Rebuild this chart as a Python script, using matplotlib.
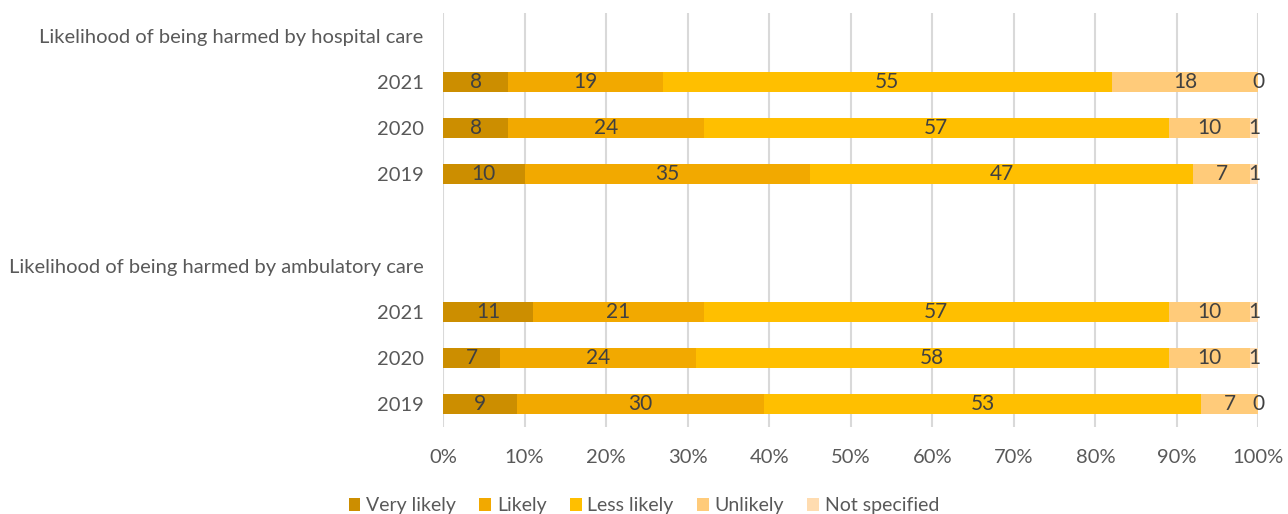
import numpy as np
import matplotlib.pyplot as plt

# rows from top to bottom; None marks a header / blank row
row_labels = ["Likelihood of being harmed by hospital care", "2021", "2020", "2019", "",
              "Likelihood of being harmed by ambulatory care", "2021", "2020", "2019"]
series = ["Very likely", "Likely", "Less likely", "Unlikely", "Not specified"]

very_likely = [None, 8, 8, 10, None, None, 11, 7, 9]
likely = [None, 19, 24, 35, None, None, 21, 24, 30]
less_likely = [None, 55, 57, 47, None, None, 57, 58, 53]
unlikely = [None, 18, 10, 7, None, None, 10, 10, 7]
not_specified = [None, 0, 1, 1, None, None, 1, 1, 0]

colors = ["#CC8E00", "#F2A900", "#FFBF00", "#FFCB7A", "#FFDCB0"]

plt.rcParams['font.family'] = ['Lato', 'DejaVu Sans']

fig = plt.figure(figsize=(12.88, 5.14), dpi=100)
ax = fig.add_axes([0.344, 0.169, 0.633, 0.806])

data = [very_likely, likely, less_likely, unlikely, not_specified]
n = len(row_labels)
ypos = np.arange(n)

for i in range(n):
    if very_likely[i] is None:
        continue
    vals = np.array([d[i] for d in data], float)
    pct = vals / vals.sum()
    left = 0.0
    for j in range(len(series)):
        ax.barh(ypos[i], pct[j], left=left, height=0.42, color=colors[j],
                label=series[j] if i == 1 else None, zorder=3)
        ax.text(left + pct[j] / 2, ypos[i], "%d" % vals[j], ha='center', va='center',
                fontsize=15, color="#404040", zorder=4)
        left += pct[j]

ax.set_ylim(n - 0.5, -0.5)
ax.set_xlim(0, 1)
ax.set_yticks(ypos)
ax.set_yticklabels(row_labels, fontsize=14.5, color="#595959")
ax.set_xticks(np.linspace(0, 1, 11))
ax.set_xticklabels(["%d%%" % v for v in range(0, 101, 10)], fontsize=14.5, color="#595959")
ax.tick_params(axis='x', length=0, pad=16)
ax.tick_params(axis='y', length=0, pad=14)
ax.grid(axis='x', color="#D9D9D9", linewidth=1.5, zorder=0)
for s in ax.spines.values():
    s.set_visible(False)

fig.legend(loc='lower center', bbox_to_anchor=(0.5, -0.035), ncol=5, frameon=False,
           fontsize=14, handlelength=0.6, handleheight=0.6, handletextpad=0.3,
           columnspacing=1.2, labelcolor="#595959")

fig.savefig("out.png")
